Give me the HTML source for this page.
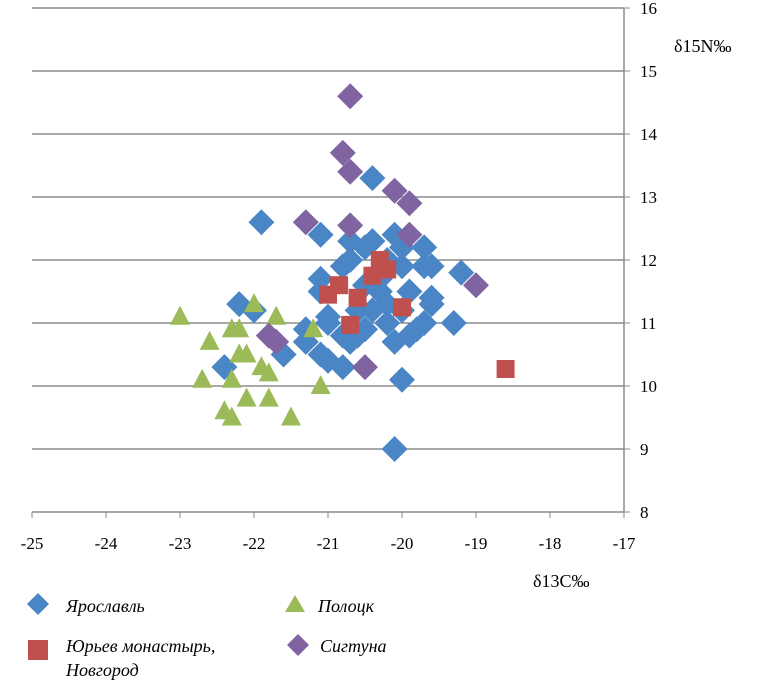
<!DOCTYPE html>
<html><head><meta charset="utf-8"><style>
html,body{margin:0;padding:0;background:#fff;}
svg{display:block;font-family:"Liberation Serif","DejaVu Serif",serif;}
</style></head><body>
<svg id="chart" width="768" height="686" viewBox="0 0 768 686" xmlns="http://www.w3.org/2000/svg">
<g id="grid"></g>
<g id="axes"></g>
<g id="marks"></g>
<text x="674" y="52" font-size="18">δ15N‰</text>
<text x="533" y="587" font-size="18">δ13C‰</text>
<g font-size="18" font-style="italic">
  <polygon points="38,593 49,604 38,615 27,604" fill="#4a86c5"/>
  <text x="66" y="612">Ярославль</text>
  <polygon points="295,595 305,612 285,612" fill="#9bbb59"/>
  <text x="318" y="612">Полоцк</text>
  <rect x="28" y="640" width="20" height="20" fill="#c0504d"/>
  <text x="66" y="652">Юрьев монастырь,</text>
  <text x="66" y="676">Новгород</text>
  <polygon points="298,634 309,645 298,656 287,645" fill="#8064a2"/>
  <text x="320" y="652">Сигтуна</text>
</g>
</svg>
<script>
const xTicks=[-25,-24,-23,-22,-21,-20,-19,-18,-17];
const yTicks=[8,9,10,11,12,13,14,15,16];
const yarX=[-21.9,-21.1,-20.4,-20.7,-20.5,-20.4,-20.1,-20.0,-19.7,-19.6,-19.7,-19.2,-19.6,-19.6,-19.3,-19.7,-19.9,-20.1,-20.0,-20.1,-21.1,-21.1,-21.0,-21.0,-20.8,-20.7,-20.6,-21.3,-21.3,-21.1,-21.0,-20.8,-20.8,-20.7,-20.5,-20.3,-20.2,-20.4,-20.6,-20.2,-20.0,-19.9,-20.0,-20.2,-20.3,-22.2,-22.0,-22.4,-21.6,-20.5,-19.8];
const yarY=[12.6,12.4,13.3,12.3,12.2,12.3,12.4,12.2,12.2,11.9,11.9,11.8,11.4,11.3,11.0,11.0,10.8,10.7,10.1,9.0,11.7,11.5,11.1,11.0,10.8,10.7,10.8,10.9,10.7,10.5,10.4,10.3,11.9,12.0,11.6,11.5,11.3,11.2,11.2,11.0,11.2,11.5,11.9,12.0,11.7,11.3,11.2,10.3,10.5,10.9,10.9];
const polX=[-23.0,-22.3,-22.2,-22.6,-22.0,-21.7,-22.2,-22.1,-21.9,-21.8,-22.7,-22.3,-21.2,-22.1,-21.8,-22.4,-22.3,-21.5,-21.1];
const polY=[11.1,10.9,10.9,10.7,11.3,11.1,10.5,10.5,10.3,10.2,10.1,10.1,10.9,9.8,9.8,9.6,9.5,9.5,10.0];
const novX=[-21.0,-20.85,-20.6,-20.7,-20.4,-20.3,-20.2,-20.0,-18.6];
const novY=[11.45,11.6,11.4,10.97,11.75,12.0,11.85,11.25,10.27];
const sigX=[-20.7,-20.8,-20.7,-20.1,-19.9,-21.3,-20.7,-19.9,-19.0,-21.8,-21.7,-20.5];
const sigY=[14.6,13.7,13.4,13.1,12.9,12.6,12.55,12.4,11.6,10.8,10.7,10.3];

const NS='http://www.w3.org/2000/svg';
const sx=v=>32+(v+25)*74;
const sy=v=>512-(v-8)*63;
function mk(tag,attrs,parent){const e=document.createElementNS(NS,tag);for(const k in attrs)e.setAttribute(k,attrs[k]);parent.appendChild(e);return e;}
const grid=document.getElementById('grid'),axes=document.getElementById('axes'),marks=document.getElementById('marks');
yTicks.forEach(t=>{
  if(t>8){const l=mk('line',{x1:32,x2:624,y1:sy(t),y2:sy(t),stroke:'#8c8c8c','stroke-width':1.5},grid);
  
  }
  const tx=mk('text',{x:640,y:sy(t)+6,'font-size':17},axes);tx.textContent=t;
  
  
  const tk=mk('line',{x1:624,x2:630,y1:sy(t),y2:sy(t),stroke:'#8c8c8c'},axes);
  
  
});
const xa=mk('line',{x1:32,x2:624,y1:512,y2:512,stroke:'#8c8c8c','stroke-width':1.5},axes);


const ya=mk('line',{x1:624,x2:624,y1:8,y2:512,stroke:'#8c8c8c','stroke-width':1.5},axes);


xTicks.forEach(t=>{
  const tk=mk('line',{x1:sx(t),x2:sx(t),y1:512,y2:518,stroke:'#8c8c8c'},axes);
  
  
  const tx=mk('text',{x:sx(t),y:549,'font-size':17,'text-anchor':'middle'},axes);tx.textContent=t;
  
  
});
function diamond(x,y,c,name){const X=sx(x),Y=sy(y),r=13;
  const p=mk('polygon',{points:`${X},${Y-r} ${X+r},${Y} ${X},${Y+r} ${X-r},${Y}`,fill:c},marks);
  
  }
yarX.forEach((x,i)=>diamond(x,yarY[i],'#4a86c5','point-yaroslavl'));
polX.forEach((x,i)=>{const X=sx(x),Y=sy(polY[i]);
  const p=mk('polygon',{points:`${X},${Y-11} ${X+10},${Y+8} ${X-10},${Y+8}`,fill:'#9bbb59'},marks);
  
  });
novX.forEach((x,i)=>{const X=sx(x),Y=sy(novY[i]);
  const p=mk('rect',{x:X-9,y:Y-9,width:18,height:18,fill:'#c0504d'},marks);
  
  });
sigX.forEach((x,i)=>diamond(x,sigY[i],'#8064a2','point-sigtuna'));
</script>
</body></html>
